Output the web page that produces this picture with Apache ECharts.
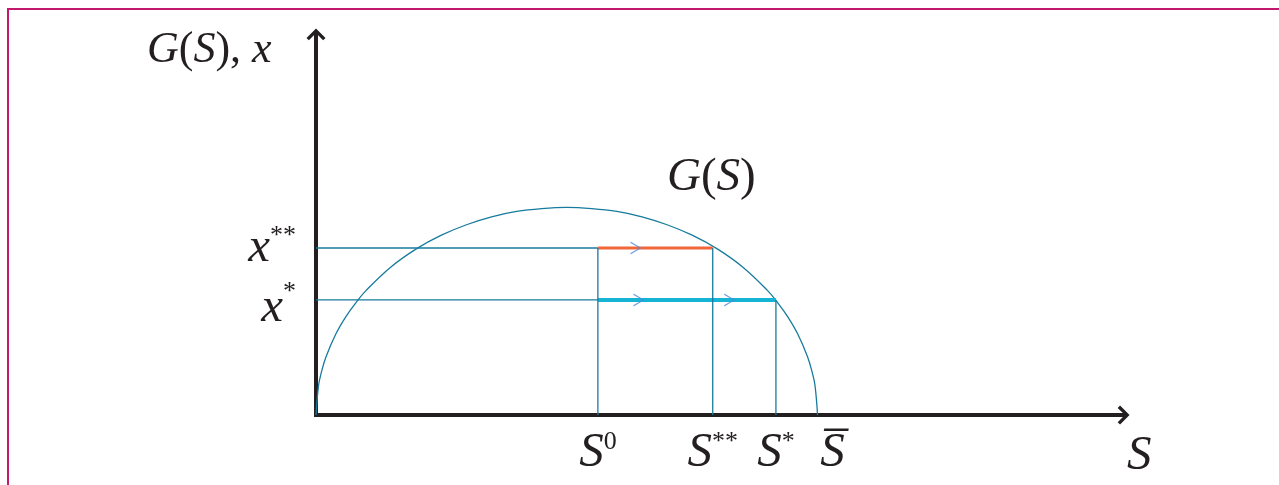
<!DOCTYPE html>
<html><head><meta charset="utf-8">
<script src="https://cdn.jsdelivr.net/npm/echarts@6/dist/echarts.min.js"></script>
<style>html,body{margin:0;padding:0;background:#fff}#c{width:1279px;height:485px}</style>
</head><body><div id="c"></div>
<script>
// ---- data ----
const curveS = [0, 0.5, 1, 2, 4, 6, 8, 10, 15, 20, 25, 30, 35, 40, 45, 50, 55, 60, 65, 70, 75, 80, 85, 90, 92, 94, 96, 98, 99, 99.5, 100];
const curveG = [0, 7.05, 9.95, 14.0, 19.6, 23.75, 27.1, 30.0, 35.7, 40.0, 43.3, 45.8, 47.7, 49.0, 49.7, 50.0, 49.7, 49.0, 47.7, 45.8, 43.3, 40.0, 35.7, 30.0, 27.1, 23.75, 19.6, 14.0, 9.95, 7.05, 0];
const xTickValues = [56.2, 79.1, 91.7, 100];        // S0, S**, S*, S-bar
const xTickNames = ['S0', 'S**', 'S*', 'Sbar'];
const yTickValues = [27.7, 40.2];                   // x*, x**
const yTickNames = ['x*', 'x**'];
const arrowX = [63.8, 64.4, 82.5];
const arrowY = [40.2, 27.7, 27.7];

// ---- derived ----
const S0 = xTickValues[0], Sss = xTickValues[1], Ss = xTickValues[2];
const xs = yTickValues[0], xss = yTickValues[1];
const TEAL = '#177b9d', INK = '#231f20';
const serif = "'Liberation Serif','DejaVu Serif',serif";

const xLabelText = {
  'S0': '{s|S}{sup|0}',
  'S**': '{s|S}{sup|**}',
  'S*': '{s|S}{sup|*}',
  'Sbar': '{sb|S\u0305}'
};
const yLabelText = {
  'x*': '{x1|x}{sup1|*}',
  'x**': '{x2|x}{sup2|**}'
};

const arrowSym = 'path://M10,0 L20,10 L17.5,12.5 L12,7 L12,18 L8,18 L8,7 L2.5,12.5 L0,10 Z';
const chevron = 'path://M0,0 L10,6 L0,12 L0,10.6 L8.2,6 L0,1.4 Z';

const chart = echarts.init(document.getElementById('c'), null, {renderer: 'canvas'});
chart.setOption({
  animation: false,
  backgroundColor: '#ffffff',
  grid: {left: 316, right: 158, top: 37, bottom: 70},
  xAxis: {
    type: 'value', min: 0, max: 160.5,
    axisLine: {show: true, symbol: ['none', arrowSym], symbolSize: [19, 18],
      lineStyle: {color: INK, width: 4, cap: 'square'}},
    axisTick: {show: false}, splitLine: {show: false},
    axisLabel: {
      customValues: xTickValues, margin: 14,
      formatter: v => xLabelText[xTickNames[xTickValues.indexOf(v)]] || '',
      rich: {
        s: {fontFamily: serif, fontStyle: 'italic', fontSize: 49, color: INK},
        sb: {fontFamily: serif, fontStyle: 'italic', fontSize: 49, color: INK, padding: [0, 0, 0, 30]},
        sup: {fontFamily: serif, fontSize: 26, color: INK, verticalAlign: 'top'}
      }
    }
  },
  yAxis: {
    type: 'value', min: 0, max: 91,
    axisLine: {show: true, symbol: ['none', arrowSym], symbolSize: [19, 18],
      lineStyle: {color: INK, width: 4, cap: 'square'}},
    axisTick: {show: false}, splitLine: {show: false},
    axisLabel: {
      customValues: yTickValues, margin: 20,
      formatter: v => yLabelText[yTickNames[yTickValues.indexOf(v)]] || '',
      rich: {
        x1: {fontFamily: serif, fontStyle: 'italic', fontSize: 49, color: INK, padding: [16, 0, 0, 0]},
        sup1: {fontFamily: serif, fontSize: 26, color: INK, verticalAlign: 'top', padding: [12, 0, 0, 0]},
        x2: {fontFamily: serif, fontStyle: 'italic', fontSize: 49, color: INK},
        sup2: {fontFamily: serif, fontSize: 26, color: INK, verticalAlign: 'top'}
      }
    }
  },
  graphic: [
    {type: 'rect', silent: true, shape: {x: 8, y: 9, width: 1400, height: 600},
      style: {fill: 'none', stroke: '#c2186f', lineWidth: 2}},
    {type: 'text', x: 147, y: 50, silent: true,
      style: {text: '{i|G}{r|(}{i|S}{r|), }{i|x}', align: 'left', verticalAlign: 'middle',
        rich: {i: {fontFamily: serif, fontStyle: 'italic', fontSize: 44, fill: INK, color: INK},
               r: {fontFamily: serif, fontSize: 44, fill: INK, color: INK}}}},
    {type: 'text', x: 667, y: 178, silent: true,
      style: {text: '{i|G}{r|(}{i|S}{r|)}', align: 'left', verticalAlign: 'middle',
        rich: {i: {fontFamily: serif, fontStyle: 'italic', fontSize: 47, fill: INK, color: INK},
               r: {fontFamily: serif, fontSize: 47, fill: INK, color: INK}}}},
    {type: 'text', x: 1127, y: 456, silent: true,
      style: {text: 'S', align: 'left', verticalAlign: 'middle',
        font: "italic 49px 'Liberation Serif', serif", fill: INK}}
  ],
  series: [
    {type: 'line', silent: true, showSymbol: false, smooth: 0.4,
      data: curveS.map((s, i) => [s, curveG[i]]),
      lineStyle: {color: TEAL, width: 1.3}, z: 3},
    {type: 'line', silent: true, showSymbol: false, data: [[S0, xss], [Sss, xss]],
      lineStyle: {color: '#f2673a', width: 3}, z: 4},
    {type: 'line', silent: true, showSymbol: false, data: [[S0, xs], [Ss, xs]],
      lineStyle: {color: '#16b4d4', width: 4}, z: 4},
    {type: 'line', silent: true, showSymbol: false, data: [[0, xss], [S0, xss]],
      lineStyle: {color: TEAL, width: 1.3}, z: 5},
    {type: 'line', silent: true, showSymbol: false, data: [[0, xs], [S0, xs]],
      lineStyle: {color: TEAL, width: 1.3}, z: 5},
    {type: 'line', silent: true, showSymbol: false, data: [[S0, 0], [S0, xss]],
      lineStyle: {color: TEAL, width: 1.3}, z: 5},
    {type: 'line', silent: true, showSymbol: false, data: [[Sss, 0], [Sss, xss]],
      lineStyle: {color: TEAL, width: 1.3}, z: 5},
    {type: 'line', silent: true, showSymbol: false, data: [[Ss, 0], [Ss, xs]],
      lineStyle: {color: TEAL, width: 1.3}, z: 5},
    {type: 'scatter', silent: true, symbol: chevron, symbolSize: [11, 13],
      data: arrowX.map((x, i) => [x, arrowY[i]]),
      itemStyle: {color: '#4f86d8'}, z: 6}
  ]
});
</script></body></html>
